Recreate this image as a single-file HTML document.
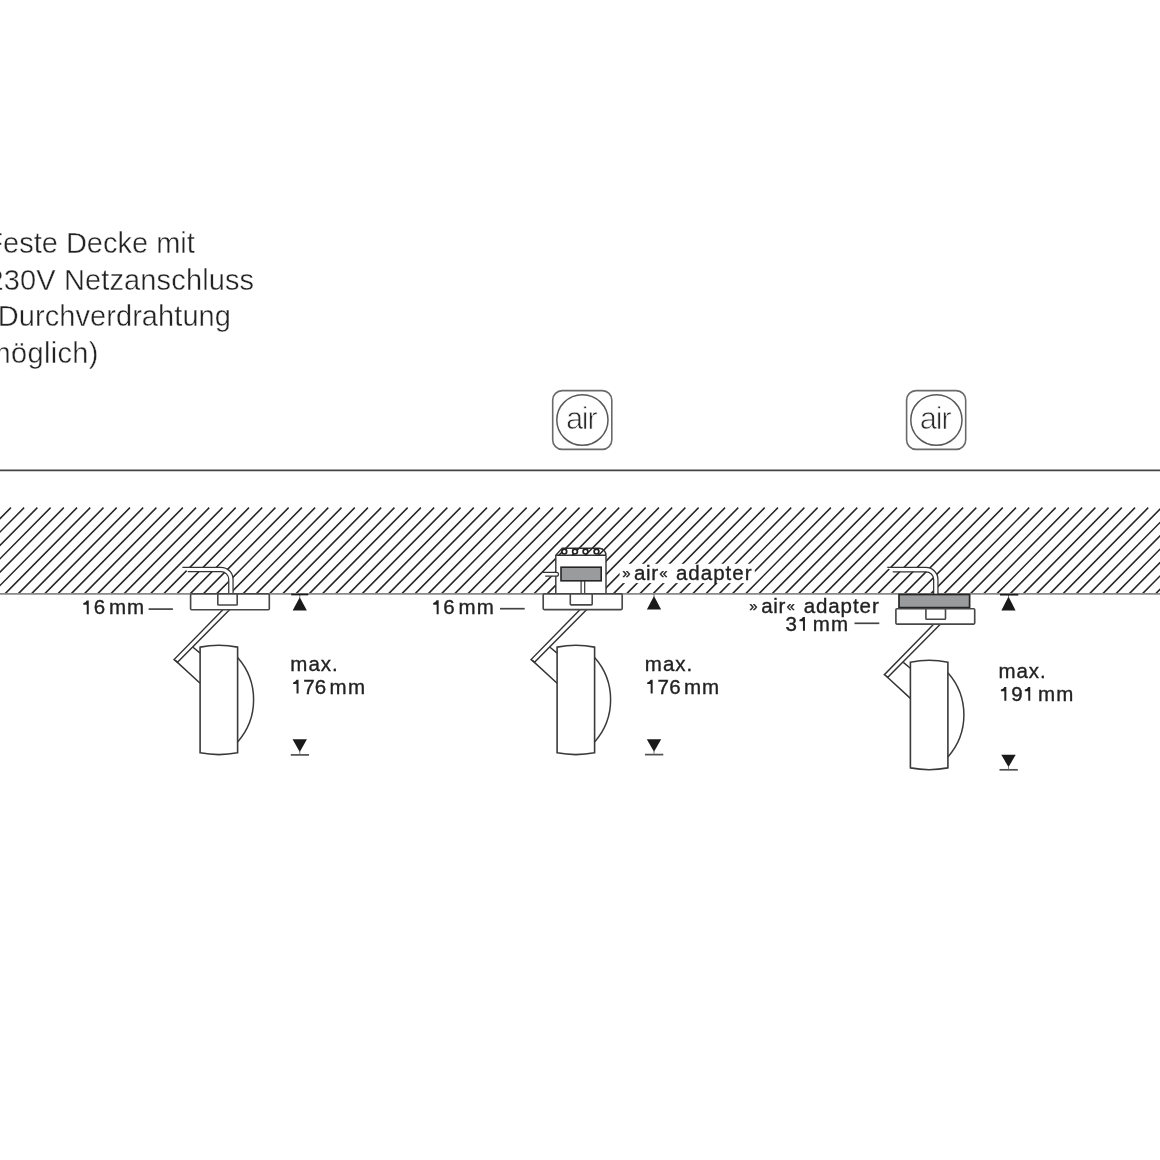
<!DOCTYPE html><html><head><meta charset="utf-8"><style>
html,body{margin:0;padding:0;background:#fff;overflow:hidden;}
svg{display:block;will-change:transform;}
text{font-family:"Liberation Sans",sans-serif;}
</style></head><body>
<svg width="1160" height="1160" viewBox="0 0 1160 1160">
<rect width="1160" height="1160" fill="#fff"/>
<g fill="#222" font-size="29" stroke="#fff" stroke-width="0.4">
<text x="-14.7" y="253.3" letter-spacing="0.0">Feste Decke mit</text>
<text x="-12.57" y="289.9" letter-spacing="0.136">230V Netzanschluss</text>
<text x="-12.0" y="325.9" letter-spacing="0.07">(Durchverdrahtung</text>
<text x="-13.5" y="363.0" letter-spacing="0.33">möglich)</text>
</g>
<rect x="552.7" y="390.6" width="59.1" height="58.8" rx="9.5" fill="none" stroke="#6a6a6a" stroke-width="1.6"/><ellipse cx="582.4" cy="420" rx="25.6" ry="25.3" fill="none" stroke="#5a5a5a" stroke-width="1.5"/><text x="565.96" y="428.9" font-size="31" fill="#2a2a2a" letter-spacing="-1.4" stroke="#fff" stroke-width="0.75">air</text>
<rect x="906.6" y="390.6" width="59.1" height="58.8" rx="9.5" fill="none" stroke="#6a6a6a" stroke-width="1.6"/><ellipse cx="936.4" cy="420" rx="25.6" ry="25.3" fill="none" stroke="#5a5a5a" stroke-width="1.5"/><text x="919.86" y="428.9" font-size="31" fill="#2a2a2a" letter-spacing="-1.4" stroke="#fff" stroke-width="0.75">air</text>
<line x1="0" y1="470.3" x2="1160" y2="470.3" stroke="#444" stroke-width="1.7"/>
<path d="M-28.78,507.6L-114.07,593.9M-15.55,507.6L-100.85,593.9M-2.33,507.6L-87.62,593.9M10.90,507.6L-74.40,593.9M24.12,507.6L-61.17,593.9M37.35,507.6L-47.95,593.9M50.57,507.6L-34.73,593.9M63.80,507.6L-21.50,593.9M77.02,507.6L-8.27,593.9M90.25,507.6L4.95,593.9M103.48,507.6L18.18,593.9M116.70,507.6L31.40,593.9M129.92,507.6L44.62,593.9M143.15,507.6L57.85,593.9M156.38,507.6L71.08,593.9M169.60,507.6L84.30,593.9M182.82,507.6L97.52,593.9M196.05,507.6L110.75,593.9M209.27,507.6L123.98,593.9M222.50,507.6L137.20,593.9M235.73,507.6L150.43,593.9M248.95,507.6L163.65,593.9M262.17,507.6L176.88,593.9M275.40,507.6L190.10,593.9M288.62,507.6L203.32,593.9M301.85,507.6L216.55,593.9M315.07,507.6L229.77,593.9M328.30,507.6L243.00,593.9M341.52,507.6L256.23,593.9M354.75,507.6L269.45,593.9M367.98,507.6L282.68,593.9M381.20,507.6L295.90,593.9M394.42,507.6L309.12,593.9M407.65,507.6L322.35,593.9M420.87,507.6L335.57,593.9M434.10,507.6L348.80,593.9M447.32,507.6L362.02,593.9M460.55,507.6L375.25,593.9M473.77,507.6L388.48,593.9M487.00,507.6L401.70,593.9M500.23,507.6L414.93,593.9M513.45,507.6L428.15,593.9M526.68,507.6L441.38,593.9M539.90,507.6L454.60,593.9M553.12,507.6L467.82,593.9M566.35,507.6L481.05,593.9M579.57,507.6L494.27,593.9M592.80,507.6L507.50,593.9M606.02,507.6L520.73,593.9M619.25,507.6L533.95,593.9M632.47,507.6L547.17,593.9M645.70,507.6L560.40,593.9M658.93,507.6L573.63,593.9M672.15,507.6L586.85,593.9M685.37,507.6L600.07,593.9M698.60,507.6L613.30,593.9M711.82,507.6L626.52,593.9M725.05,507.6L639.75,593.9M738.27,507.6L652.98,593.9M751.50,507.6L666.20,593.9M764.72,507.6L679.42,593.9M777.95,507.6L692.65,593.9M791.18,507.6L705.88,593.9M804.40,507.6L719.10,593.9M817.62,507.6L732.32,593.9M830.85,507.6L745.55,593.9M844.07,507.6L758.77,593.9M857.30,507.6L772.00,593.9M870.52,507.6L785.23,593.9M883.75,507.6L798.45,593.9M896.97,507.6L811.67,593.9M910.20,507.6L824.90,593.9M923.43,507.6L838.13,593.9M936.65,507.6L851.35,593.9M949.87,507.6L864.57,593.9M963.10,507.6L877.80,593.9M976.32,507.6L891.02,593.9M989.55,507.6L904.25,593.9M1002.77,507.6L917.48,593.9M1016.00,507.6L930.70,593.9M1029.22,507.6L943.92,593.9M1042.45,507.6L957.15,593.9M1055.67,507.6L970.37,593.9M1068.90,507.6L983.60,593.9M1082.12,507.6L996.82,593.9M1095.35,507.6L1010.05,593.9M1108.57,507.6L1023.27,593.9M1121.80,507.6L1036.50,593.9M1135.03,507.6L1049.72,593.9M1148.25,507.6L1062.95,593.9M1161.47,507.6L1076.18,593.9M1174.70,507.6L1089.40,593.9M1187.92,507.6L1102.62,593.9M1201.15,507.6L1115.85,593.9M1214.38,507.6L1129.07,593.9M1227.60,507.6L1142.30,593.9M1240.82,507.6L1155.53,593.9M1254.05,507.6L1168.75,593.9" stroke="#262626" stroke-width="1.5" fill="none"/>
<line x1="0" y1="593.9" x2="1160" y2="593.9" stroke="#8a8a8a" stroke-width="1.7"/>
<path d="M182.4,567.25 H220.9 A12.15,12.15 0 0 1 233.05,579.4 V593.9 H228.75 V579.4 A7.85,7.85 0 0 0 220.9,571.55 H187.8 Z" fill="#fff"/><path d="M182.4,567.25 H220.9 A12.15,12.15 0 0 1 233.05,579.4 V593.9" fill="none" stroke="#333" stroke-width="1.25"/><path d="M187.8,571.55 H220.9 A7.85,7.85 0 0 1 228.75,579.4 V593.9" fill="none" stroke="#333" stroke-width="1.25"/>
<g transform="translate(0,0)"><path d="M225.8,606.7 L174.05,659.6 L177.5,662.2 L232.5,606.7" fill="#fff" stroke="#333" stroke-width="1.45" stroke-linejoin="miter"/><path d="M175.78,660.90 L200.1,683.3 M193,647.3 L200.1,653.1" fill="none" stroke="#333" stroke-width="1.45"/><path d="M200.1,647.1 Q218.85,643.30 237.6,647.1 V752.8 Q218.85,756.40 200.1,752.8 Z" fill="#fff" stroke="#3a3a3a" stroke-width="1.6"/><path d="M237.6,657.6 A63.52,63.52 0 0 1 237.6,741.9" fill="none" stroke="#3a3a3a" stroke-width="1.5"/></g>
<rect x="190.6" y="593.9" width="78.70" height="15.80" rx="1" fill="#fff" stroke="#484848" stroke-width="1.65"/><rect x="217.8" y="593.9" width="19.40" height="11.10" rx="0.8" fill="#fff" stroke="#484848" stroke-width="1.6"/>
<path d="M299.75,597.3 L306.85,610.5 L292.65,610.5 Z" fill="#1a1a1a"/><line x1="299.75" y1="594" x2="299.75" y2="598.3" stroke="#555" stroke-width="0.8"/>
<line x1="291.2" y1="594.5" x2="308.3" y2="594.5" stroke="#1a1a1a" stroke-width="1.7"/>
<path d="M292.55,739.3 L306.95,739.3 L299.75,751.9 Z" fill="#1a1a1a"/><line x1="290.75" y1="754.9" x2="309.05" y2="754.9" stroke="#505050" stroke-width="1.7"/><line x1="299.75" y1="750.9" x2="299.75" y2="754.9" stroke="#666" stroke-width="0.8"/>
<line x1="148.6" y1="609.1" x2="172.9" y2="609.1" stroke="#444" stroke-width="1.7"/>
<path d="M555.8,593.9 V555.3 L562.2,548.3 H599.6 A7,7 0 0 1 606.0,555.8 V593.9" fill="#fff" stroke="#333" stroke-width="1.4"/>
<line x1="555.8" y1="555.3" x2="606.0" y2="555.3" stroke="#333" stroke-width="1.4"/>
<clipPath id="ts"><path d="M555.8,555.3 L562.2,548.3 H599.6 A7,7 0 0 1 606.0,555.3 Z"/></clipPath>
<path d="M-28.78,507.6L-114.07,593.9M-15.55,507.6L-100.85,593.9M-2.33,507.6L-87.62,593.9M10.90,507.6L-74.40,593.9M24.12,507.6L-61.17,593.9M37.35,507.6L-47.95,593.9M50.57,507.6L-34.73,593.9M63.80,507.6L-21.50,593.9M77.02,507.6L-8.27,593.9M90.25,507.6L4.95,593.9M103.48,507.6L18.18,593.9M116.70,507.6L31.40,593.9M129.92,507.6L44.62,593.9M143.15,507.6L57.85,593.9M156.38,507.6L71.08,593.9M169.60,507.6L84.30,593.9M182.82,507.6L97.52,593.9M196.05,507.6L110.75,593.9M209.27,507.6L123.98,593.9M222.50,507.6L137.20,593.9M235.73,507.6L150.43,593.9M248.95,507.6L163.65,593.9M262.17,507.6L176.88,593.9M275.40,507.6L190.10,593.9M288.62,507.6L203.32,593.9M301.85,507.6L216.55,593.9M315.07,507.6L229.77,593.9M328.30,507.6L243.00,593.9M341.52,507.6L256.23,593.9M354.75,507.6L269.45,593.9M367.98,507.6L282.68,593.9M381.20,507.6L295.90,593.9M394.42,507.6L309.12,593.9M407.65,507.6L322.35,593.9M420.87,507.6L335.57,593.9M434.10,507.6L348.80,593.9M447.32,507.6L362.02,593.9M460.55,507.6L375.25,593.9M473.77,507.6L388.48,593.9M487.00,507.6L401.70,593.9M500.23,507.6L414.93,593.9M513.45,507.6L428.15,593.9M526.68,507.6L441.38,593.9M539.90,507.6L454.60,593.9M553.12,507.6L467.82,593.9M566.35,507.6L481.05,593.9M579.57,507.6L494.27,593.9M592.80,507.6L507.50,593.9M606.02,507.6L520.73,593.9M619.25,507.6L533.95,593.9M632.47,507.6L547.17,593.9M645.70,507.6L560.40,593.9M658.93,507.6L573.63,593.9M672.15,507.6L586.85,593.9M685.37,507.6L600.07,593.9M698.60,507.6L613.30,593.9M711.82,507.6L626.52,593.9M725.05,507.6L639.75,593.9M738.27,507.6L652.98,593.9M751.50,507.6L666.20,593.9M764.72,507.6L679.42,593.9M777.95,507.6L692.65,593.9M791.18,507.6L705.88,593.9M804.40,507.6L719.10,593.9M817.62,507.6L732.32,593.9M830.85,507.6L745.55,593.9M844.07,507.6L758.77,593.9M857.30,507.6L772.00,593.9M870.52,507.6L785.23,593.9M883.75,507.6L798.45,593.9M896.97,507.6L811.67,593.9M910.20,507.6L824.90,593.9M923.43,507.6L838.13,593.9M936.65,507.6L851.35,593.9M949.87,507.6L864.57,593.9M963.10,507.6L877.80,593.9M976.32,507.6L891.02,593.9M989.55,507.6L904.25,593.9M1002.77,507.6L917.48,593.9M1016.00,507.6L930.70,593.9M1029.22,507.6L943.92,593.9M1042.45,507.6L957.15,593.9M1055.67,507.6L970.37,593.9M1068.90,507.6L983.60,593.9M1082.12,507.6L996.82,593.9M1095.35,507.6L1010.05,593.9M1108.57,507.6L1023.27,593.9M1121.80,507.6L1036.50,593.9M1135.03,507.6L1049.72,593.9M1148.25,507.6L1062.95,593.9M1161.47,507.6L1076.18,593.9M1174.70,507.6L1089.40,593.9M1187.92,507.6L1102.62,593.9M1201.15,507.6L1115.85,593.9M1214.38,507.6L1129.07,593.9M1227.60,507.6L1142.30,593.9M1240.82,507.6L1155.53,593.9M1254.05,507.6L1168.75,593.9" stroke="#262626" stroke-width="1.5" fill="none" clip-path="url(#ts)"/>
<circle cx="564.3" cy="551.6" r="2.4" fill="#fff" stroke="#222" stroke-width="1.7"/>
<circle cx="575.0" cy="551.6" r="2.4" fill="#fff" stroke="#222" stroke-width="1.7"/>
<circle cx="585.5" cy="551.6" r="2.4" fill="#fff" stroke="#222" stroke-width="1.7"/>
<circle cx="596.5" cy="551.6" r="2.4" fill="#fff" stroke="#222" stroke-width="1.7"/>
<rect x="561.0" y="567.2" width="40.2" height="13.6" fill="#9a9b9c" stroke="#262626" stroke-width="1.6"/>
<path d="M581.1,581 V593.9 M584.7,581 V593.9" stroke="#333" stroke-width="1.2"/>
<path d="M543,572.3 H556.5 Q558.5,572.3 558.5,574.25 Q558.5,576.2 556.5,576.2 H545.2" fill="#fff" stroke="#333" stroke-width="1.2"/>
<g transform="translate(357,0)"><path d="M225.8,606.7 L174.05,659.6 L177.5,662.2 L232.5,606.7" fill="#fff" stroke="#333" stroke-width="1.45" stroke-linejoin="miter"/><path d="M175.78,660.90 L200.1,683.3 M193,647.3 L200.1,653.1" fill="none" stroke="#333" stroke-width="1.45"/><path d="M200.1,647.1 Q218.85,643.30 237.6,647.1 V752.8 Q218.85,756.40 200.1,752.8 Z" fill="#fff" stroke="#3a3a3a" stroke-width="1.6"/><path d="M237.6,657.6 A63.52,63.52 0 0 1 237.6,741.9" fill="none" stroke="#3a3a3a" stroke-width="1.5"/></g>
<rect x="543.2" y="593.9" width="79.00" height="15.70" rx="1" fill="#fff" stroke="#484848" stroke-width="1.65"/><rect x="570.3" y="593.9" width="21.90" height="11.00" rx="0.8" fill="#fff" stroke="#484848" stroke-width="1.6"/>
<path d="M654,596.0 L661.1,609.5 L646.9,609.5 Z" fill="#1a1a1a"/><line x1="654" y1="594" x2="654" y2="597.0" stroke="#555" stroke-width="0.8"/>
<path d="M646.8,739.3 L661.2,739.3 L654,751.7 Z" fill="#1a1a1a"/><line x1="645" y1="754.6" x2="663.3" y2="754.6" stroke="#505050" stroke-width="1.7"/><line x1="654" y1="750.7" x2="654" y2="754.6" stroke="#666" stroke-width="0.8"/>
<line x1="500" y1="608.7" x2="524.7" y2="608.7" stroke="#444" stroke-width="1.7"/>
<rect x="619.6" y="563.8" width="135.2" height="19.3" fill="#fff"/>
<path d="M887.3,567.45 H925.8 A12.15,12.15 0 0 1 937.9499999999999,579.6 V594.5 H933.65 V579.6 A7.85,7.85 0 0 0 925.8,571.75 H892.6999999999999 Z" fill="#fff"/><path d="M887.3,567.45 H925.8 A12.15,12.15 0 0 1 937.9499999999999,579.6 V594.5" fill="none" stroke="#333" stroke-width="1.25"/><path d="M892.6999999999999,571.75 H925.8 A7.85,7.85 0 0 1 933.65,579.6 V594.5" fill="none" stroke="#333" stroke-width="1.25"/>
<rect x="899.0" y="594.5" width="70.6" height="13.1" fill="#9a9b9c" stroke="#262626" stroke-width="1.7"/>
<g transform="translate(710.3,15.1)"><path d="M225.8,606.7 L174.05,659.6 L177.5,662.2 L232.5,606.7" fill="#fff" stroke="#333" stroke-width="1.45" stroke-linejoin="miter"/><path d="M175.78,660.90 L200.1,683.3 M193,647.3 L200.1,653.1" fill="none" stroke="#333" stroke-width="1.45"/><path d="M200.1,647.1 Q218.85,643.30 237.6,647.1 V752.8 Q218.85,756.40 200.1,752.8 Z" fill="#fff" stroke="#3a3a3a" stroke-width="1.6"/><path d="M237.6,657.6 A63.52,63.52 0 0 1 237.6,741.9" fill="none" stroke="#3a3a3a" stroke-width="1.5"/></g>
<rect x="895.9" y="608.7" width="78.80" height="15.40" rx="1" fill="#fff" stroke="#484848" stroke-width="1.65"/><rect x="925.9" y="608.7" width="19.60" height="10.60" rx="0.8" fill="#fff" stroke="#484848" stroke-width="1.6"/>
<path d="M1008.5,596.6 L1015.6,610.4 L1001.4,610.4 Z" fill="#1a1a1a"/><line x1="1008.5" y1="594" x2="1008.5" y2="597.6" stroke="#555" stroke-width="0.8"/>
<line x1="1000" y1="594.7" x2="1018.3" y2="594.7" stroke="#1a1a1a" stroke-width="1.7"/>
<path d="M1001.3,754.8 L1015.7,754.8 L1008.5,767.1 Z" fill="#1a1a1a"/><line x1="999.5" y1="769.8" x2="1017.8" y2="769.8" stroke="#505050" stroke-width="1.7"/><line x1="1008.5" y1="766.1" x2="1008.5" y2="769.8" stroke="#666" stroke-width="0.8"/>
<line x1="854.5" y1="623.3" x2="879.3" y2="623.3" stroke="#444" stroke-width="1.7"/>
<g fill="#222" font-size="20.5" stroke="#222" stroke-width="0.35">
<path d="M88.75,600.40 V614.3 H86.75 V604.80 L83.30,604.80 V603.10 Q85.85,602.60 86.75,600.40 Z" stroke="none"/>
<text x="93.83" y="614.3" letter-spacing="0">6</text>
<text x="108.92" y="614.3" letter-spacing="1.09">mm</text>
<text x="290.32" y="670.9" letter-spacing="1.0">max.</text>
<path d="M298.55,679.70 V693.6 H296.55 V684.10 L293.10,684.10 V682.40 Q295.65,681.90 296.55,679.70 Z" stroke="none"/>
<text x="303.27" y="693.6" letter-spacing="0.05">76</text>
<text x="329.52" y="693.6" letter-spacing="1.49">mm</text>
<path d="M438.65,600.30 V614.2 H436.65 V604.70 L433.20,604.70 V603.00 Q435.75,602.50 436.65,600.30 Z" stroke="none"/>
<text x="443.33" y="614.2" letter-spacing="0">6</text>
<text x="458.62" y="614.2" letter-spacing="0.99">mm</text>
<text x="644.82" y="670.9" letter-spacing="1.0">max.</text>
<path d="M652.65,679.70 V693.6 H650.65 V684.10 L647.20,684.10 V682.40 Q649.75,681.90 650.65,679.70 Z" stroke="none"/>
<text x="657.57" y="693.6" letter-spacing="0.25">76</text>
<text x="684.02" y="693.6" letter-spacing="0.79">mm</text>
<text x="998.42" y="678.3" letter-spacing="0.97">max.</text>
<path d="M1006.35,686.90 V700.8 H1004.35 V691.30 L1000.90,691.30 V689.60 Q1003.45,689.10 1004.35,686.90 Z" stroke="none"/>
<text x="1011.3" y="700.8" letter-spacing="0">9</text>
<path d="M1030.25,686.90 V700.8 H1028.25 V691.30 L1024.80,691.30 V689.60 Q1027.35,689.10 1028.25,686.90 Z" stroke="none"/>
<text x="1038.02" y="700.8" letter-spacing="1.09">mm</text>
<text x="633.96" y="579.9" letter-spacing="0.68">air</text>
<text x="675.96" y="579.9" letter-spacing="1.0">adapter</text>
<text x="622.34" y="578.4" font-size="15">»</text><text x="659.3" y="578.4" font-size="15" letter-spacing="0">«</text>
<text x="761.26" y="612.7" letter-spacing="0.68">air</text>
<text x="803.66" y="612.7" letter-spacing="0.92">adapter</text>
<text x="749.33" y="611.2" font-size="15">»</text><text x="786.59" y="611.2" font-size="15">«</text>
<text x="785.56" y="630.8" letter-spacing="0">3</text>
<path d="M804.95,616.90 V630.8 H802.95 V621.30 L799.50,621.30 V619.60 Q802.05,619.10 802.95,616.90 Z" stroke="none"/>
<text x="812.72" y="630.8" letter-spacing="1.09">mm</text>
</g>
</svg></body></html>
